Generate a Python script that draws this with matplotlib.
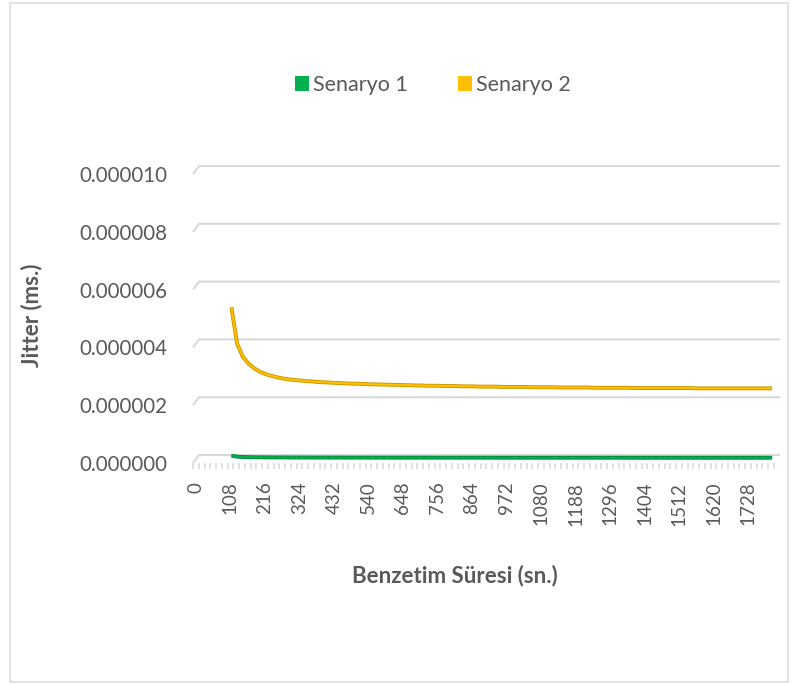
import numpy as np
import matplotlib
matplotlib.use("Agg")
import matplotlib.pyplot as plt
from matplotlib.transforms import ScaledTranslation
from matplotlib.patches import Patch, Rectangle

# ---- data -------------------------------------------------------------
time_s = np.arange(108, 1801, 18)          # simulation time (sn.)

senaryo_1 = np.array([
    0.080, 0.045, 0.035, 0.030, 0.026, 0.024, 0.022, 0.021, 0.020, 0.019,
    0.018, 0.018, 0.017, 0.017, 0.016, 0.016, 0.016, 0.015, 0.015, 0.015,
    0.014, 0.014, 0.014, 0.014, 0.013, 0.013, 0.013, 0.013, 0.013, 0.012,
    0.012, 0.012, 0.012, 0.012, 0.012, 0.012, 0.011, 0.011, 0.011, 0.011,
    0.011, 0.011, 0.011, 0.011, 0.011, 0.011, 0.010, 0.010, 0.010, 0.010,
    0.010, 0.010, 0.010, 0.010, 0.010, 0.010, 0.010, 0.010, 0.010, 0.010,
    0.010, 0.010, 0.010, 0.010, 0.010, 0.010, 0.010, 0.010, 0.010, 0.010,
    0.009, 0.009, 0.009, 0.009, 0.009, 0.009, 0.009, 0.009, 0.009, 0.009,
    0.009, 0.009, 0.009, 0.009, 0.009, 0.009, 0.009, 0.009, 0.009, 0.009,
    0.009, 0.009, 0.009, 0.009, 0.009,
]) * 1e-6

senaryo_2 = np.array([
    5.22, 3.95, 3.50, 3.26, 3.10, 2.98, 2.90, 2.84, 2.79, 2.75,
    2.72, 2.70, 2.68, 2.66, 2.65, 2.63, 2.62, 2.61, 2.60, 2.59,
    2.58, 2.57, 2.57, 2.56, 2.55, 2.55, 2.54, 2.54, 2.53, 2.53,
    2.52, 2.52, 2.51, 2.51, 2.50, 2.50, 2.50, 2.49, 2.49, 2.49,
    2.48, 2.48, 2.48, 2.47, 2.47, 2.47, 2.47, 2.46, 2.46, 2.46,
    2.46, 2.46, 2.45, 2.45, 2.45, 2.45, 2.45, 2.44, 2.44, 2.44,
    2.44, 2.44, 2.44, 2.43, 2.43, 2.43, 2.43, 2.43, 2.43, 2.43,
    2.42, 2.42, 2.42, 2.42, 2.42, 2.42, 2.42, 2.42, 2.42, 2.42,
    2.42, 2.41, 2.41, 2.41, 2.41, 2.41, 2.41, 2.41, 2.41, 2.41,
    2.41, 2.41, 2.41, 2.41, 2.41,
]) * 1e-6

series_names = ["Senaryo 1", "Senaryo 2"]
x_ticklabels = np.arange(0, 1729, 108)
y_ticks = np.arange(0, 1.01e-5, 2e-6)

# ---- style ------------------------------------------------------------
GREEN, GREEN_EDGE = "#00B050", "#00843C"
GOLD, GOLD_EDGE = "#FFC000", "#C89600"
GRID = "#D9D9D9"
TEXT = "#595959"
FONT = ["Lato", "DejaVu Sans"]
plt.rcParams["font.family"] = FONT

DPI = 100
W, H = 797, 684
fig = plt.figure(figsize=(W / DPI, H / DPI), dpi=DPI)


def px_box(left, top, right, bottom):
    return [left / W, 1 - bottom / H, (right - left) / W, (bottom - top) / H]


# outer chart border
fig.patches.append(Rectangle((9.5 / W, 1 - 682 / H), 778 / W, 679.5 / H,
                             transform=fig.transFigure, fill=False,
                             edgecolor=GRID, lw=1.1))

ax = fig.add_axes(px_box(193, 174, 774, 463))
XMIN, XMAX = -9, 1809
YMIN, YMAX = 0, 1e-5
ax.set_xlim(XMIN, XMAX)
ax.set_ylim(YMIN, YMAX)
for s in ax.spines.values():
    s.set_visible(False)
ax.patch.set_alpha(0)

# back-wall gridlines of the pseudo-3D plot area, with slanted left edge
ax_w_px, ax_h_px = 774 - 193, 463 - 174
depth_dx = 6 * (XMAX - XMIN) / ax_w_px
depth_dy = 8 * (YMAX - YMIN) / ax_h_px
for v in y_ticks:
    ax.plot([XMIN, XMIN + depth_dx, XMAX + depth_dx],
            [v, v + depth_dy, v + depth_dy],
            color=GRID, lw=1.5, clip_on=False, zorder=1,
            solid_capstyle="butt")

# series drawn at mid depth
mid = ax.transData + ScaledTranslation(1 / DPI, 5 / DPI, fig.dpi_scale_trans)
for y, col, edge in [(senaryo_1, GREEN, GREEN_EDGE),
                     (senaryo_2, GOLD, GOLD_EDGE)]:
    ax.plot(time_s, y, color=edge, lw=2.8, transform=mid, clip_on=False,
            zorder=3, solid_capstyle="butt")
    ax.plot(time_s, y, color=col, lw=1.5, transform=mid, clip_on=False,
            zorder=4, solid_capstyle="butt")

# x axis: category boundary ticks + labels every 6th category
ax.set_xticks(x_ticklabels)
ax.set_xticklabels([str(v) for v in x_ticklabels], rotation=90,
                   fontsize=13.5, color=TEXT)
ax.set_xticks(np.arange(XMIN, XMAX + 1, 18), minor=True)
ax.tick_params(axis="x", which="major", length=0, pad=13.5)
ax.tick_params(axis="x", which="minor", length=4.3, width=1.1,
               color=GRID, direction="out")

ax.set_yticks(y_ticks)
ax.set_yticklabels([f"{v:.6f}" for v in y_ticks], fontsize=14.8, color=TEXT)
ax.tick_params(axis="y", length=0, pad=18.5)

# axis titles
fig.text(32 / W, 1 - 315 / H, "Jitter (ms.)", rotation=90, ha="center",
         va="center", fontsize=16, fontweight="bold", color=TEXT)
fig.text(455 / W, 1 - 576 / H, "Benzetim Süresi (sn.)", ha="center",
         va="center", fontsize=16, fontweight="bold", color=TEXT)

# legend
handles = [Patch(facecolor=GREEN, edgecolor="none"),
           Patch(facecolor=GOLD, edgecolor="none")]
fig.legend(handles, series_names, loc="center",
           bbox_to_anchor=(433 / W, 1 - 85 / H), ncol=2, frameon=False,
           fontsize=15.5, labelcolor=TEXT, handlelength=0.66,
           handleheight=0.66, handletextpad=0.2, columnspacing=2.3)

fig.savefig("out.png", dpi=DPI)
